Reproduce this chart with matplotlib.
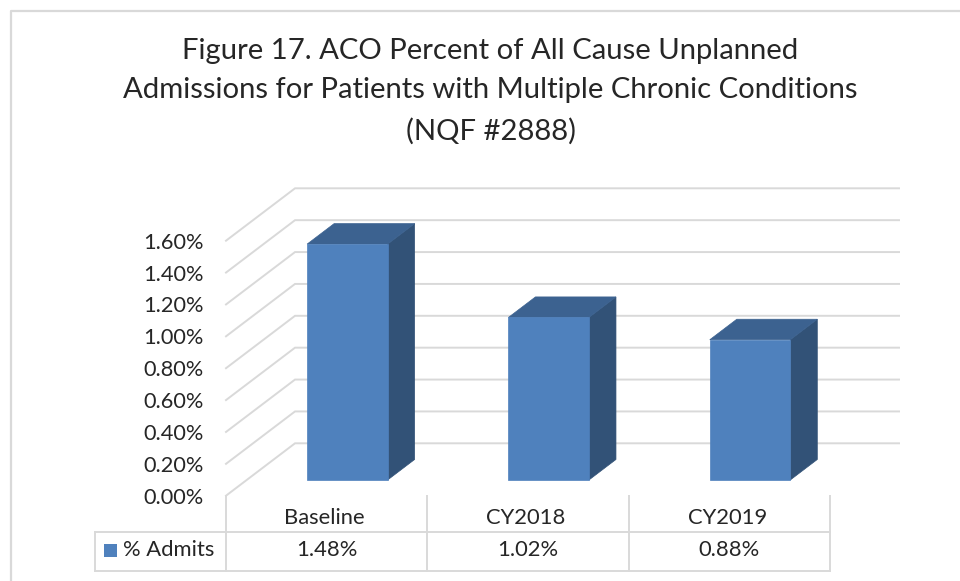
import matplotlib
matplotlib.use("Agg")
import matplotlib.pyplot as plt
from matplotlib.lines import Line2D
from matplotlib.patches import Polygon, Rectangle

categories = ["Baseline", "CY2018", "CY2019"]
admits = [1.48, 1.02, 0.88]
y_ticks = [0.0, 0.2, 0.4, 0.6, 0.8, 1.0, 1.2, 1.4, 1.6]
series_name = "% Admits"
title_lines = [
    "Figure 17. ACO Percent of All Cause Unplanned",
    "Admissions for Patients with Multiple Chronic Conditions",
    "(NQF #2888)",
]

W, H = 960, 581
GRID = "#d9d9d9"
TEXT = "#262626"
FRONT = "#4f81bd"
TOP = "#3c6290"
SIDE = "#325277"

plt.rcParams["font.family"] = ["Lato", "DejaVu Sans"]


def fig_rect(x0, y0, x1, y1):
    # pixel box (y from the top) to figure fractions
    return [x0 / W, 1 - y1 / H, (x1 - x0) / W, (y1 - y0) / H]


fig = plt.figure(figsize=(W / 100, H / 100), dpi=100, facecolor="white")

# chart frame, only left and top edges are visible
fig.add_artist(Line2D([10.5 / W, 10.5 / W, 1], [0, 1 - 10.5 / H, 1 - 10.5 / H], color=GRID, lw=1.6))

for line, y in zip(title_lines, [51, 90, 131]):
    fig.text(490.5 / W, 1 - y / H, line, ha="center", va="center", fontsize=21.1, color=TEXT)

# main axes: front plane of the 3D box
ax = fig.add_axes(fig_rect(226, 240.7, 830, 495.7))
ax.set_xlim(0, 3)
ax.set_ylim(0, 1.6)
for s in ax.spines.values():
    s.set_visible(False)
ax.patch.set_alpha(0)
ax.set_xticks([])
ax.set_yticks(y_ticks)
ax.set_yticklabels([f"{v:.2f}%" for v in y_ticks])
ax.tick_params(axis="y", length=0, pad=16, labelsize=15.7, labelcolor=TEXT)

# depth of the box in data units
depth_x = 69 / 201.3
depth_y = 52.4 / 159.4

for v in y_ticks:
    ax.plot([0, depth_x, 3 + depth_x], [v, v + depth_y, v + depth_y], color=GRID, lw=1.4,
            clip_on=False, zorder=1, solid_joinstyle="miter")

# bars sit part way into the depth, front face 30% back and 39% deep
bar_w = 80.5 / 201.3
f0 = 0.30
f1 = 0.30 + 27 / 69
for i, val in enumerate(admits):
    x0 = i + 0.5 - bar_w / 2 + f0 * depth_x
    x1 = x0 + bar_w
    y0 = f0 * depth_y
    y1 = y0 + val
    dx = (f1 - f0) * depth_x
    dy = (f1 - f0) * depth_y
    ax.add_patch(Polygon([(x1, y0), (x1 + dx, y0 + dy), (x1 + dx, y1 + dy), (x1, y1)],
                         facecolor=SIDE, edgecolor=SIDE, lw=0.5, clip_on=False, zorder=3))
    ax.add_patch(Polygon([(x0, y1), (x1, y1), (x1 + dx, y1 + dy), (x0 + dx, y1 + dy)],
                         facecolor=TOP, edgecolor=TOP, lw=0.5, clip_on=False, zorder=3))
    ax.add_patch(Rectangle((x0, y0), bar_w, val, facecolor=FRONT, edgecolor=FRONT, lw=0.5,
                           clip_on=False, zorder=4))

# data table under the chart
tab = fig.add_axes(fig_rect(95, 495.7, 830, 570.7))
tab.set_xlim(-131 / 201.3, 3)
tab.set_ylim(2, 0)
tab.axis("off")
row_y = 36.3 / 37.5
for x in range(4):
    tab.plot([x, x], [0, 2], color=GRID, lw=1.4, clip_on=False)
left = -131 / 201.3
tab.plot([left, 3], [row_y, row_y], color=GRID, lw=1.4, clip_on=False)
tab.plot([left, 3], [2, 2], color=GRID, lw=1.4, clip_on=False)
tab.plot([left, left], [row_y, 2], color=GRID, lw=1.4, clip_on=False)
for i, (cat, val) in enumerate(zip(categories, admits)):
    tab.text(i + 0.49, 0.59, cat, ha="center", va="center", fontsize=15.8, color=TEXT)
    tab.text(i + 0.5, 1.46, f"{val:.2f}%", ha="center", va="center", fontsize=15.8, color=TEXT)
tab.add_patch(Rectangle((left + 8.7 / 201.3, 1.29), 13 / 201.3, 0.34, facecolor=FRONT, edgecolor="none"))
tab.text(left + 28 / 201.3, 1.46, series_name, ha="left", va="center", fontsize=15.8, color=TEXT)

fig.savefig("out.png", dpi=100)
